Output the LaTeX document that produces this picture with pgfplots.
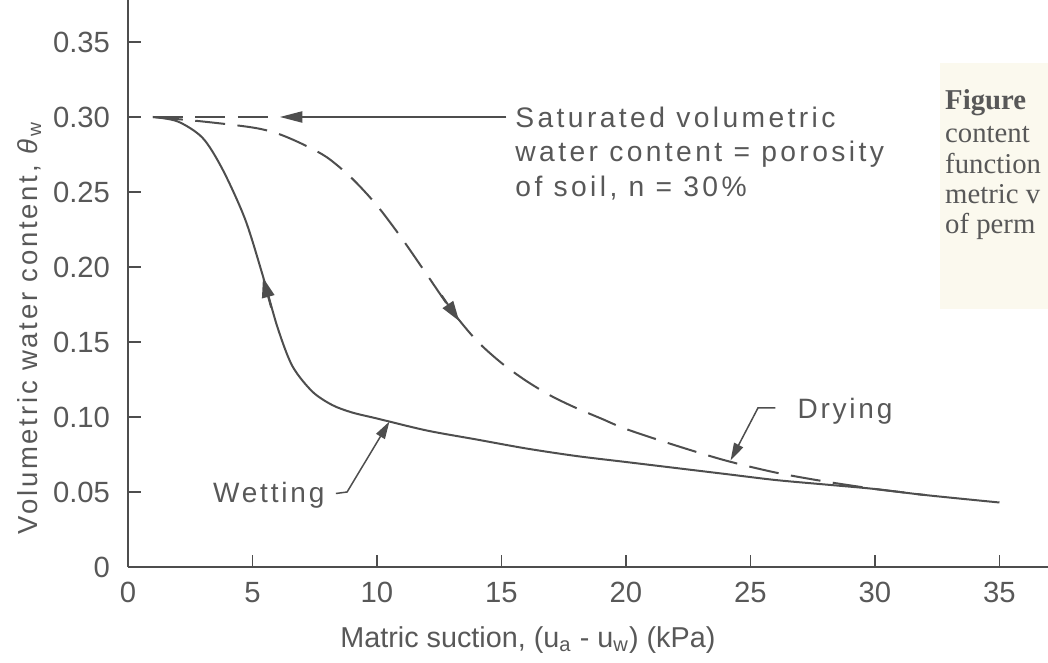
\documentclass[border=0pt]{standalone}
\usepackage{fontspec}
\setmainfont{Liberation Sans}
\newfontfamily\spaced[LetterSpace=10]{Liberation Sans}
\newfontfamily\spacedw[LetterSpace=12]{Liberation Sans}
\newfontfamily\capfont{Liberation Serif}
\usepackage{pgfplots}
\usepackage{pgfplotstable}
\pgfplotsset{compat=1.18}
\usetikzlibrary{arrows.meta}
\definecolor{ink}{RGB}{78,78,78}
\definecolor{txt}{RGB}{88,88,88}
\definecolor{cream}{RGB}{251,249,238}

\pgfplotstableread{
x y
1 0.300
2 0.297
3 0.286
3.8 0.265
4.7 0.232
5.4 0.195
6.0 0.160
6.6 0.134
7.4 0.117
8.2 0.108
9 0.103
10 0.099
12 0.091
14 0.085
16 0.079
18 0.074
20 0.070
22 0.066
24 0.062
26 0.058
28 0.055
30 0.052
32 0.048
35 0.043
}\wetting

\pgfplotstableread{
x y
1 0.300
3 0.297
5 0.293
6 0.289
7 0.282
8 0.273
9 0.259
10 0.241
11 0.219
12 0.195
13 0.171
14 0.151
15 0.136
16 0.124
17 0.114
18 0.106
19 0.099
20 0.092
22 0.081
24 0.071
26 0.063
28 0.057
30 0.052
31 0.050
32 0.048
}\drying

\begin{document}
\begin{tikzpicture}
\begin{axis}[
  scale only axis, width=368pt, height=226.8pt,
  xmin=0, xmax=36.95, ymin=0, ymax=0.378,
  axis x line=bottom, axis y line=left,
  axis line style={-, draw=ink, line width=0.8pt},
  every outer x axis line/.append style={-},
  every outer y axis line/.append style={-},
  tick align=inside, major tick length=5pt,
  tick style={draw=ink, line width=0.7pt},
  xtick={0,5,10,15,20,25,30,35},
  xticklabels={0,5,10,15,20,25,30,35},
  ytick={0,0.05,0.10,0.15,0.20,0.25,0.30,0.35},
  yticklabels={0,0.05,0.10,0.15,0.20,0.25,0.30,0.35},
  xticklabel style={font=\fontsize{11.7}{14}\selectfont, text=txt, inner sep=0pt, yshift=-5.8pt},
  yticklabel style={font=\fontsize{11.7}{14}\selectfont, text=txt, inner sep=0pt, xshift=-7pt},
  xlabel={Matric suction, (u\textsubscript{a} - u\textsubscript{w}) (kPa)},
  xlabel style={at={(axis description cs:0.2304,-0.1411)}, anchor=base west, font=\fontsize{11.5}{14}\selectfont, text=txt, inner sep=0pt},
  ylabel={Volumetric water content, \textit{θ}\textsubscript{w}},
  ylabel style={at={(axis description cs:-0.0989,0.4215)}, anchor=base, font=\spaced\fontsize{11}{14}\selectfont, text=txt, inner sep=0pt},
  clip=false,
]
\fill[cream] (axis cs:32.6,0.172) rectangle (axis cs:38,0.336);
\node[anchor=base west, inner sep=0, text=txt, font=\capfont\fontsize{11.5}{13}\selectfont] at (axis cs:32.8,0.3047) {\textbf{Figure}};
\node[anchor=base west, inner sep=0, text=txt, font=\capfont\fontsize{11.5}{13}\selectfont] at (axis cs:32.8,0.2827) {content};
\node[anchor=base west, inner sep=0, text=txt, font=\capfont\fontsize{11.5}{13}\selectfont] at (axis cs:32.8,0.2620) {function};
\node[anchor=base west, inner sep=0, text=txt, font=\capfont\fontsize{11.5}{13}\selectfont] at (axis cs:32.8,0.2420) {metric v};
\node[anchor=base west, inner sep=0, text=txt, font=\capfont\fontsize{11.5}{13}\selectfont] at (axis cs:32.8,0.2220) {of perm};

\addplot[ink, line width=0.8pt, smooth] table {\wetting};
\addplot[ink, line width=0.8pt, smooth, dash pattern=on 12pt off 5pt] table {\drying};
\addplot[ink, line width=0.7pt, dash pattern=on 12pt off 5pt] coordinates {(1,0.30) (6.0,0.30)};
\addplot[ink, line width=0.6pt, -{Triangle[length=9pt,width=4.5pt]}] coordinates {(15.2,0.30) (6.1,0.30)};
\addplot[ink, line width=0.8pt, -{Triangle[length=8pt,width=5pt]}] coordinates {(5.75,0.173) (5.42,0.193)};
\addplot[ink, line width=0.8pt, -{Triangle[length=8pt,width=5pt]}] coordinates {(12.6,0.181) (13.3,0.164)};
\addplot[ink, line width=0.6pt, -{Triangle[length=7pt,width=4pt]}] coordinates {(8.35,0.049) (8.8,0.050) (10.5,0.097)};
\addplot[ink, line width=0.6pt, -{Triangle[length=7pt,width=4pt]}] coordinates {(26.0,0.106) (25.3,0.106) (24.2,0.071)};

\node[anchor=base west, inner sep=0, text=txt, font=\spaced\fontsize{11.2}{14}\selectfont] at (axis cs:3.4,0.0433) {Wetting};
\node[anchor=base west, inner sep=0, text=txt, font=\spaced\fontsize{11.2}{14}\selectfont] at (axis cs:26.87,0.0987) {Drying};
\node[anchor=base west, inner sep=0, text=txt, font=\spacedw\fontsize{11.3}{14}\selectfont] at (axis cs:15.54,0.2933) {Saturated volumetric};
\node[anchor=base west, inner sep=0, text=txt, font=\spacedw\fontsize{11.3}{14}\selectfont] at (axis cs:15.54,0.2700) {water content = porosity};
\node[anchor=base west, inner sep=0, text=txt, font=\spacedw\fontsize{11.3}{14}\selectfont] at (axis cs:15.54,0.2467) {of soil, n = 30\%};
\end{axis}
\pgfresetboundingbox
\useasboundingbox (-51.2pt,-38pt) rectangle (368pt,226.8pt);
\end{tikzpicture}
\end{document}
